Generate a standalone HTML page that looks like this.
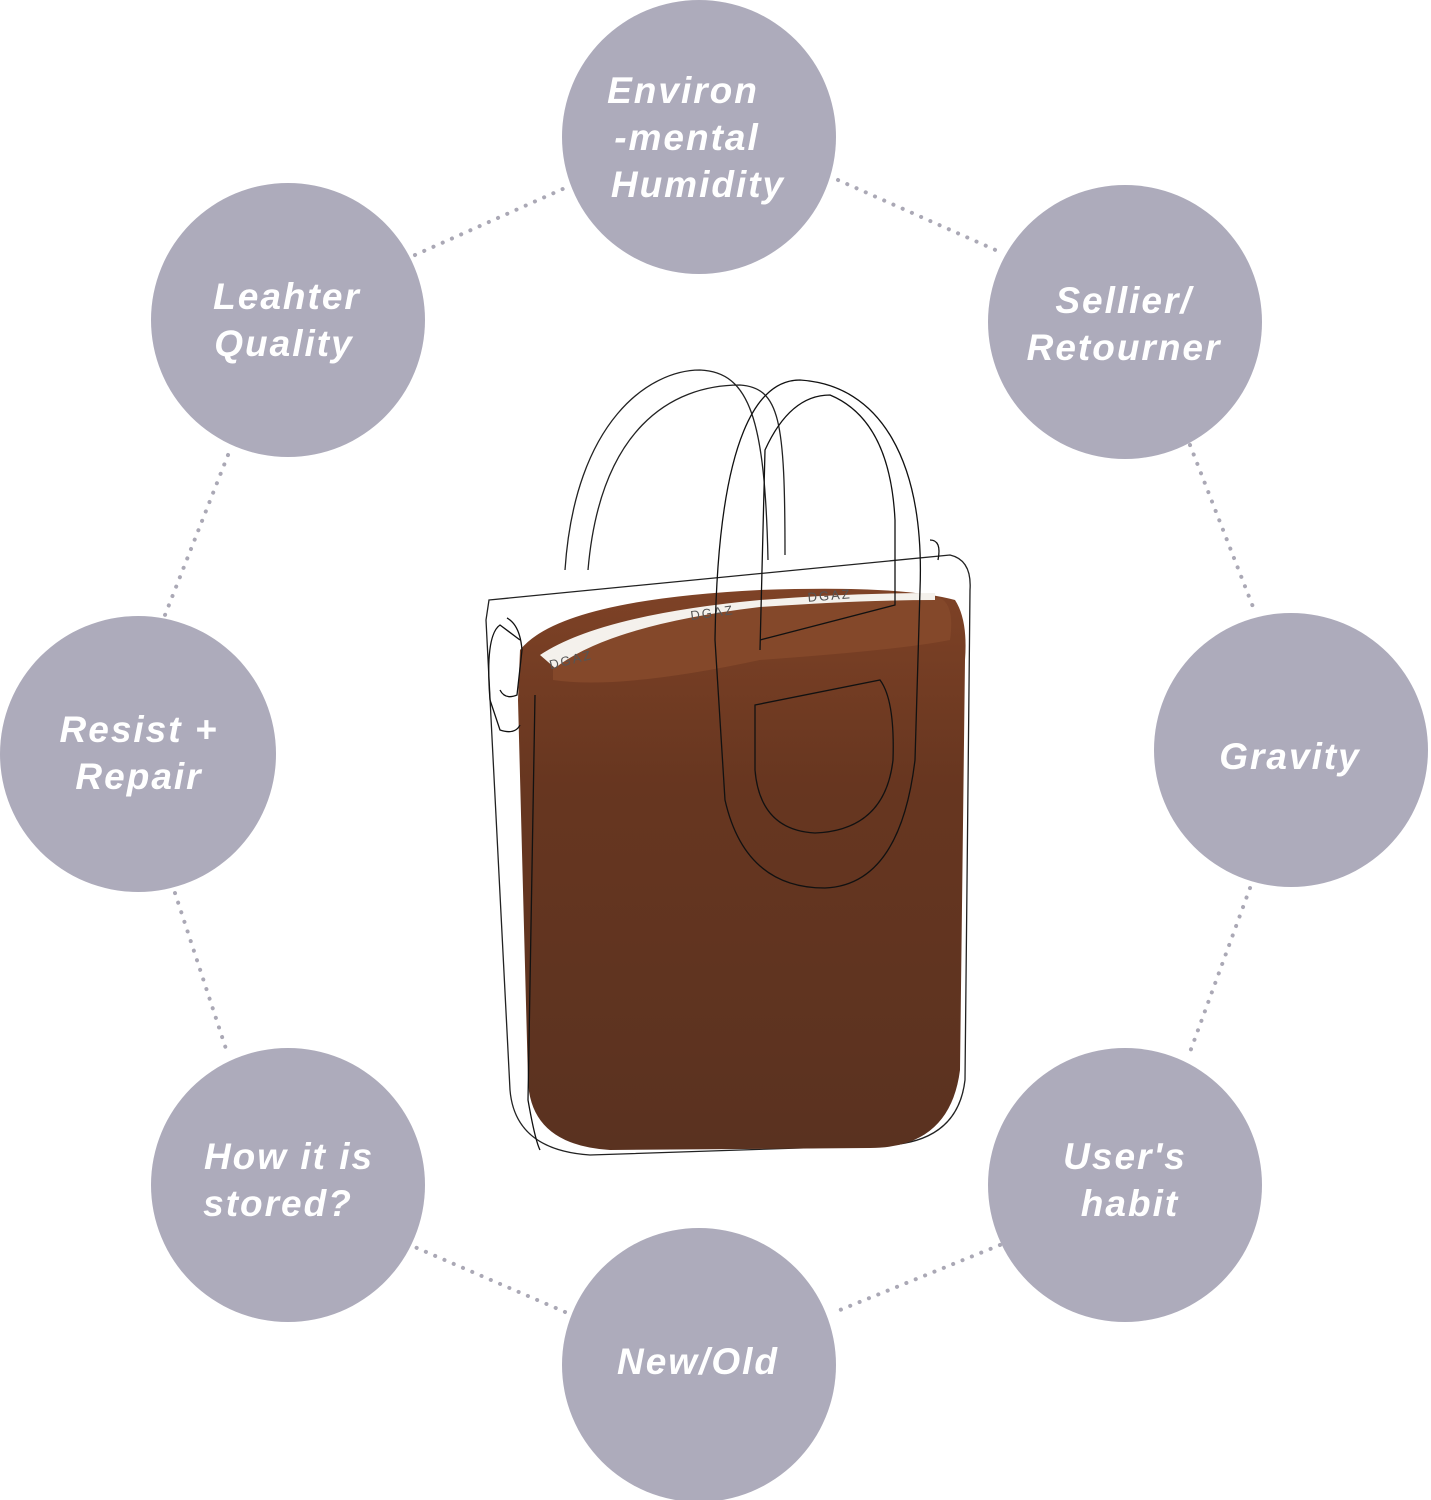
<!DOCTYPE html>
<html><head><style>
html,body{margin:0;padding:0;background:#fff;}
svg{display:block}
text{font-family:"Liberation Sans",sans-serif;font-weight:bold;font-style:italic;fill:#fff;font-size:37px;letter-spacing:2px;text-anchor:middle}
</style></head><body>
<svg width="1431" height="1500" viewBox="0 0 1431 1500" xmlns="http://www.w3.org/2000/svg">
<defs>
<linearGradient id="br" x1="0" y1="0" x2="0" y2="1">
<stop offset="0" stop-color="#7e4226"/><stop offset="0.35" stop-color="#673620"/><stop offset="1" stop-color="#5a3220"/>
</linearGradient>
</defs>
<g stroke="#aaa8b5" stroke-width="4" stroke-dasharray="0.1 10" stroke-linecap="round" fill="none">
<line x1="415" y1="255" x2="565" y2="188"/>
<line x1="838" y1="180" x2="1000" y2="252"/>
<line x1="1190" y1="445" x2="1255" y2="612"/>
<line x1="1250" y1="888" x2="1190" y2="1052"/>
<line x1="1000" y1="1245" x2="835" y2="1312"/>
<line x1="565" y1="1312" x2="410" y2="1245"/>
<line x1="175" y1="893" x2="228" y2="1055"/>
<line x1="228" y1="455" x2="165" y2="615"/>
</g>
<g fill="#adabbb">
<circle cx="699" cy="137" r="137"/>
<circle cx="288" cy="320" r="137"/>
<circle cx="1125" cy="322" r="137"/>
<circle cx="138" cy="754" r="138"/>
<circle cx="1291" cy="750" r="137"/>
<circle cx="288" cy="1185" r="137"/>
<circle cx="1125" cy="1185" r="137"/>
<circle cx="699" cy="1365" r="137"/>
</g>
<text x="683" y="103">Environ</text>
<text x="687" y="150">-mental</text>
<text x="698" y="197">Humidity</text>
<text x="287" y="309">Leahter</text>
<text x="284" y="356">Quality</text>
<text x="1124" y="313">Sellier/</text>
<text x="1124" y="360">Retourner</text>
<text x="139" y="742">Resist +</text>
<text x="139" y="789">Repair</text>
<text x="1290" y="769">Gravity</text>
<text x="289" y="1169">How it is</text>
<text x="278" y="1216">stored?</text>
<text x="1125" y="1169">User's</text>
<text x="1130" y="1216">habit</text>
<text x="698" y="1374">New/Old</text>
<!-- bag -->
<g fill="none" stroke="#222" stroke-width="1.3">
<path d="M565 570 C575 420 650 370 700 370 C750 372 765 420 768 560"/>
<path d="M588 570 C600 430 670 385 740 385 C780 388 785 420 785 555"/>
<path d="M489 600 L950 555 Q972 560 970 590 L965 1080 Q958 1140 890 1145 L590 1155 Q515 1150 510 1090 L486 620 Z"/>
</g>
<path d="M520 650 Q560 600 760 590 Q900 585 955 600 Q968 620 965 660 L960 1070 Q950 1148 870 1148 L610 1150 Q530 1145 528 1080 L518 700 Z" fill="url(#br)"/>
<path d="M553 660 Q600 615 760 600 Q880 590 940 598 Q955 605 950 640 Q900 650 760 660 Q620 690 553 680 Z" fill="#84482a"/>
<path d="M540 655 Q600 615 760 600 Q850 593 935 593 L935 600 Q860 600 760 607 Q610 625 555 668 Z" fill="#f4f1ec"/>
<text x="572" y="664" style="fill:#555;font-size:13px;font-weight:normal;font-style:normal" transform="rotate(-14 572 664)">DGAZ</text>
<text x="713" y="617" style="fill:#555;font-size:13px;font-weight:normal;font-style:normal" transform="rotate(-8 713 617)">DGAZ</text>
<text x="830" y="600" style="fill:#555;font-size:13px;font-weight:normal;font-style:normal" transform="rotate(-5 830 600)">DGAZ</text>
<g fill="none" stroke="#111" stroke-width="1.3">
<path d="M715 640 C718 430 760 380 800 380 C880 385 925 460 920 590 L915 760 Q900 885 825 888 Q745 888 725 800 Z"/>
<path d="M760 650 L765 450 Q790 395 830 395 Q890 420 895 520 L895 605 L760 640"/>
<path d="M755 705 L880 680 Q895 700 893 760 Q885 830 815 833 Q760 830 755 770 Z"/>
<path d="M535 695 L528 1100 Q535 1140 540 1150"/>
<path d="M520 640 L500 625 Q485 635 490 700 L500 730 Q515 735 520 725"/>
<path d="M507 618 Q520 625 522 650 L517 695 Q505 700 500 690"/>
<path d="M930 540 Q942 540 938 560"/>
</g>
</svg>
</body></html>
